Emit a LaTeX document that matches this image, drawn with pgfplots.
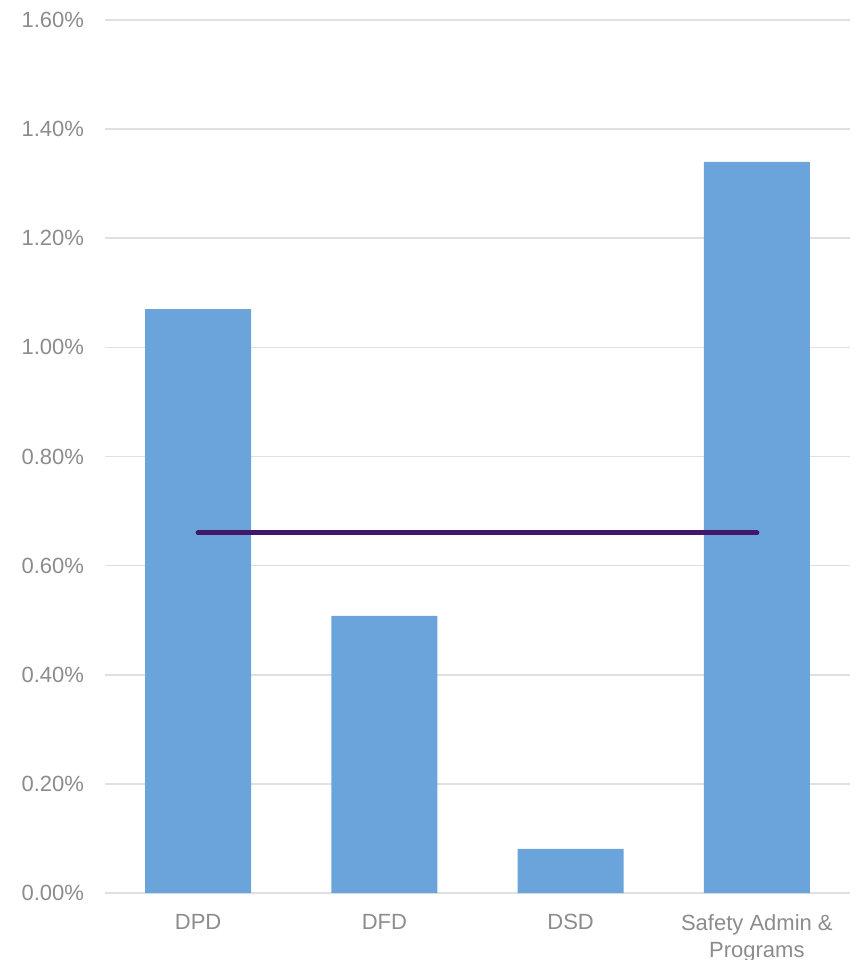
\documentclass[border=0pt]{standalone}
\usepackage{pgfplots}
\pgfplotsset{compat=1.18}
\usepackage{fontspec}
\setmainfont{Liberation Sans}
\definecolor{barblue}{HTML}{6AA4DA}
\definecolor{linepurple}{HTML}{41176A}
\definecolor{gridgray}{HTML}{E0E0E0}
\definecolor{labgray}{HTML}{8C8C8C}
\begin{document}
\begin{tikzpicture}
\path[use as bounding box] (-52.5pt,-33.5pt) rectangle (375.5pt,446.5pt);
\begin{axis}[
  at={(0,0)}, anchor=south west,
  scale only axis, width=372.5pt, height=436.5pt,
  xmin=-0.5, xmax=3.5, ymin=0, ymax=1.6,
  axis line style={draw=none},
  axis x line*=bottom,
  ytick={0,0.2,...,1.6},
  yticklabel={\pgfmathprintnumber[fixed,fixed zerofill,precision=2]{\tick}\%},
  /pgf/number format/assume math mode=true,
  ymajorgrids, grid style={gridgray, line width=0.8pt},
  major tick length=0pt,
  xtick={0,1,2,3},
  xticklabels={DPD,DFD,DSD,{Safety Admin \&\\Programs}},
  tick label style={font=\fontsize{11}{13.5}\selectfont, text=labgray},
  yticklabel style={xshift=-7pt},
  xticklabel style={align=center, anchor=north, yshift=-7pt},
  clip=false,
]
\draw[gridgray, line width=0.8pt] (axis cs:-0.5,0) -- (axis cs:3.5,0);
\addplot[ybar, bar width=53pt, fill=barblue, draw=none] coordinates {(0,1.07) (1,0.508) (2,0.081) (3,1.34)};
\addplot[linepurple, line width=2.5pt, line cap=round, mark=none] coordinates {(0,0.66) (1,0.66) (2,0.66) (3,0.66)};
\end{axis}
\end{tikzpicture}
\end{document}
